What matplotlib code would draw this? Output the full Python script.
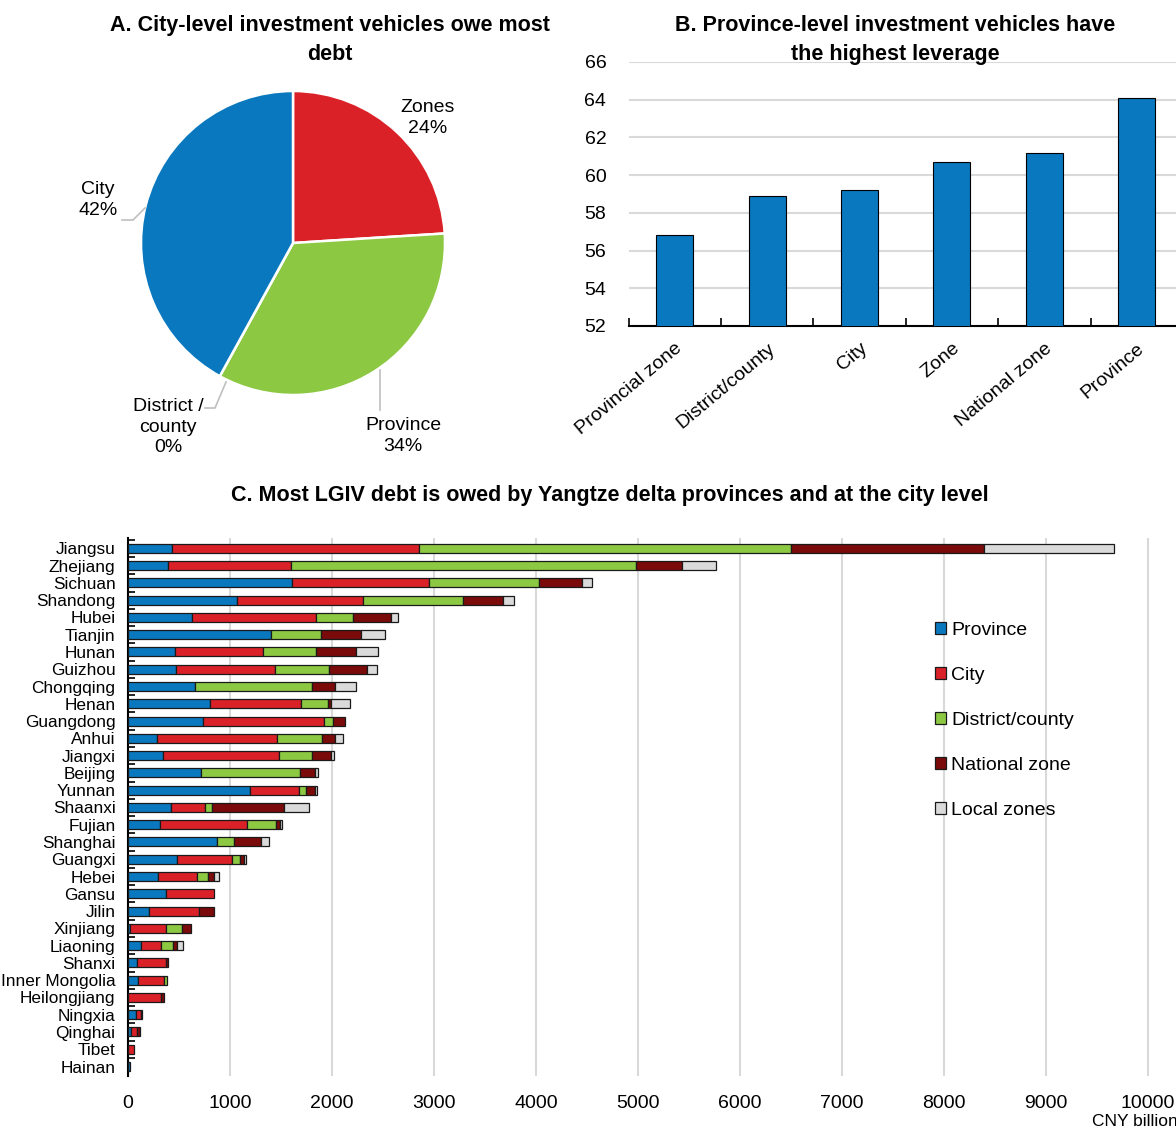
import matplotlib
matplotlib.use("Agg")
import matplotlib.pyplot as plt
import numpy as np

plt.rcParams["font.family"] = ["Liberation Sans", "DejaVu Sans"]

BLUE = "#0A78BE"
RED = "#DA2128"
GREEN = "#8CC841"
DARKRED = "#7B0A0A"
LIGHT = "#DADADA"
GRID = "#D9D9D9"

# Panel A: share of debt by administrative level
pie_labels = ["Zones", "Province", "District /\ncounty", "City"]
pie_shares = [24, 34, 0, 42]

# Panel B: leverage by vehicle level
lev_categories = ["Provincial zone", "District/county", "City", "Zone", "National zone", "Province"]
lev_values = [56.8, 58.9, 59.2, 60.7, 61.15, 64.1]

# Panel C: debt by province and level (CNY billion)
provinces = ["Jiangsu", "Zhejiang", "Sichuan", "Shandong", "Hubei", "Tianjin", "Hunan",
             "Guizhou", "Chongqing", "Henan", "Guangdong", "Anhui", "Jiangxi", "Beijing",
             "Yunnan", "Shaanxi", "Fujian", "Shanghai", "Guangxi", "Hebei", "Gansu", "Jilin",
             "Xinjiang", "Liaoning", "Shanxi", "Inner Mongolia", "Heilongjiang", "Ningxia",
             "Qinghai", "Tibet", "Hainan"]
province_debt = [430, 390, 1610, 1070, 630, 1405, 465, 470, 655, 805, 735, 285, 345, 715,
                 1195, 425, 310, 875, 485, 290, 375, 205, 15, 125, 90, 95, 0, 80, 30, 0, 20]
city_debt = [2420, 1210, 1340, 1235, 1210, 0, 860, 975, 0, 895, 1185, 1175, 1140, 0,
             480, 330, 855, 0, 535, 390, 470, 495, 360, 195, 285, 255, 325, 50, 60, 60, 0]
district_debt = [3650, 3380, 1080, 975, 370, 485, 520, 525, 1150, 260, 90, 440, 320, 970,
                 70, 70, 285, 165, 75, 105, 0, 0, 150, 120, 0, 30, 0, 0, 0, 0, 0]
national_debt = [1890, 450, 420, 400, 365, 390, 390, 375, 225, 35, 120, 125, 185, 145,
                 85, 700, 40, 265, 45, 55, 0, 140, 90, 45, 15, 0, 25, 8, 25, 0, 0]
local_debt = [1280, 335, 95, 100, 70, 235, 215, 100, 210, 185, 0, 80, 25, 30,
              25, 245, 20, 80, 20, 50, 0, 0, 0, 50, 0, 0, 0, 0, 0, 0, 0]
series_names = ["Province", "City", "District/county", "National zone", "Local zones"]
series_colors = [BLUE, RED, GREEN, DARKRED, LIGHT]

W, H = 1176, 1129
fig = plt.figure(figsize=(W / 100, H / 100), dpi=100)

def fig_box(left, top, right, bottom):
    return [left / W, 1 - bottom / H, (right - left) / W, (bottom - top) / H]

FS = 14
TITLE_FS = 15.5

# ---------- Panel A ----------
axA = fig.add_axes(fig_box(93, 43, 493, 443))
r_px = 152.0
lim = 200.0 / r_px
wedges, _ = axA.pie(pie_shares, colors=[RED, GREEN, GREEN, BLUE], startangle=90,
                    counterclock=False, radius=1.0,
                    wedgeprops=dict(edgecolor="white", linewidth=1.8))
axA.set_xlim(-lim, lim)
axA.set_ylim(-lim, lim)
axA.set_aspect("equal")
axA.axis("off")

def px(x, y):
    # pixel position -> pie data coordinates
    return ((x - 293) / r_px, (243 - y) / r_px)

lead = dict(color="#BFBFBF", lw=1.2)
axA.plot(*zip(px(122, 220), px(133, 220), px(145, 208)), **lead)
axA.plot(*zip(px(380, 370), px(380, 410)), **lead)
axA.plot(*zip(px(205, 408), px(215, 408), px(226, 382)), **lead)

label_pos = [(428, 118), (403, 436), (168, 427), (98, 200)]
for lab, share, (lx, ly) in zip(pie_labels, pie_shares, label_pos):
    axA.text(*px(lx, ly), f"{lab}\n{share}%", ha="center", va="center",
             fontsize=FS, linespacing=1.3)

fig.text(330 / W, 1 - 40 / H, "A. City-level investment vehicles owe most\ndebt",
         ha="center", va="center", fontsize=TITLE_FS, fontweight="bold", linespacing=1.5)

# ---------- Panel B ----------
axB = fig.add_axes(fig_box(628.5, 62, 1183, 326))
xb = np.arange(len(lev_categories))
axB.bar(xb, lev_values, width=0.4, color=BLUE, edgecolor="black", linewidth=0.8, zorder=3)
axB.set_xlim(-0.5, len(lev_categories) - 0.5)
axB.set_ylim(52, 66)
axB.set_yticks(np.arange(52, 67, 2))
axB.yaxis.grid(True, color=GRID, lw=1.5, zorder=0)
axB.tick_params(axis="y", length=0, labelsize=FS, pad=16)
axB.set_xticks(xb)
axB.set_xticklabels(lev_categories, rotation=40, ha="right", rotation_mode="anchor", fontsize=FS)
axB.tick_params(axis="x", length=0, pad=10)
axB.set_xticks(np.arange(len(lev_categories)) - 0.5, minor=True)
axB.tick_params(axis="x", which="minor", length=6, width=1.2, direction="in", color="black")
for s in ["left", "right", "top"]:
    axB.spines[s].set_visible(False)
axB.spines["bottom"].set_linewidth(1.5)
fig.text(895 / W, 1 - 40 / H, "B. Province-level investment vehicles have\nthe highest leverage",
         ha="center", va="center", fontsize=TITLE_FS, fontweight="bold", linespacing=1.5,
         zorder=5)

# ---------- Panel C ----------
axC = fig.add_axes(fig_box(128, 538, 1176, 1076))
yc = np.arange(len(provinces))
left = np.zeros(len(provinces))
for name, vals, col in zip(series_names,
                           [province_debt, city_debt, district_debt, national_debt, local_debt],
                           series_colors):
    v = np.array(vals, dtype=float)
    lw = np.where(v > 0, 0.9, 0.0)
    axC.barh(yc, v, left=left, height=0.52, color=col, edgecolor="#1a1a1a",
             linewidth=lw, label=name, zorder=3)
    left += v
axC.set_xlim(0, 10275)
axC.set_ylim(len(provinces) - 0.45, -0.6)
axC.set_xticks(np.arange(0, 10001, 1000))
axC.xaxis.grid(True, color=GRID, lw=1.5, zorder=0)
axC.tick_params(axis="x", length=0, labelsize=FS, pad=14)
axC.set_yticks(yc)
axC.set_yticklabels(provinces, fontsize=12.4)
axC.tick_params(axis="y", length=0, pad=9)
axC.set_yticks(np.arange(len(provinces)) - 0.5, minor=True)
axC.tick_params(axis="y", which="minor", length=5, width=1.2, direction="in")
for s in ["right", "top", "bottom"]:
    axC.spines[s].set_visible(False)
axC.spines["left"].set_linewidth(1.5)

leg = axC.legend(loc="upper left", bbox_to_anchor=((927 - 128) / 1048, (1076 - 614) / 538),
                 frameon=False, fontsize=FS, handlelength=0.6, handleheight=0.6,
                 handletextpad=0.25, labelspacing=1.44, borderaxespad=0)
fig.text(610 / W, 1 - 495 / H,
         "C. Most LGIV debt is owed by Yangtze delta provinces and at the city level",
         ha="center", va="center", fontsize=TITLE_FS, fontweight="bold")
fig.text(1092 / W, 1 - 1121 / H, "CNY billion", ha="left", va="center", fontsize=12.5)

fig.savefig("out.png", dpi=100)
